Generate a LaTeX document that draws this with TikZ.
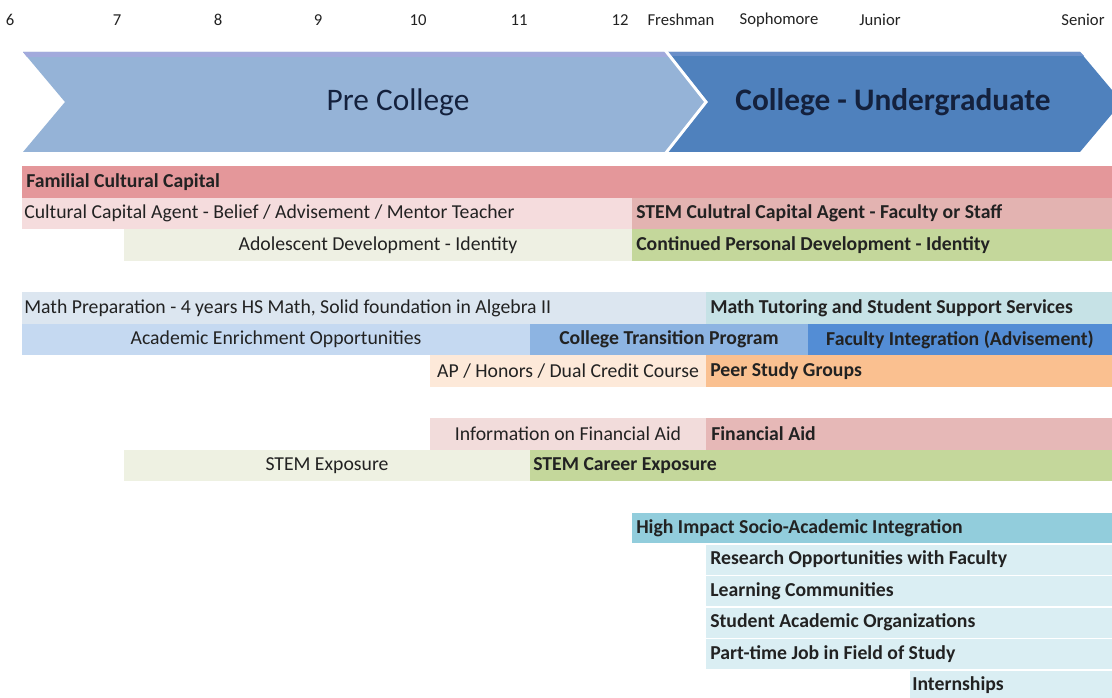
\documentclass[tikz,border=0pt]{standalone}
\usepackage{fontspec}
\setmainfont{Carlito}
\definecolor{ink}{HTML}{222222}
\definecolor{navy}{HTML}{14213D}
\definecolor{cPre}{HTML}{95B3D7}
\definecolor{cPreTop}{HTML}{A2AADC}
\definecolor{cCol}{HTML}{4F81BD}
\definecolor{cColTop}{HTML}{6A8FC9}
\definecolor{cFam}{HTML}{E4979A}
\definecolor{cAgentPre}{HTML}{F5DCDD}
\definecolor{cAgentCol}{HTML}{E3B3B1}
\definecolor{cAdol}{HTML}{EEF0E3}
\definecolor{cCont}{HTML}{C4D79B}
\definecolor{cMathPre}{HTML}{DCE6F0}
\definecolor{cMathTut}{HTML}{C6E2E6}
\definecolor{cAcad}{HTML}{C5D9F1}
\definecolor{cTrans}{HTML}{8DB4E2}
\definecolor{cFac}{HTML}{538DD5}
\definecolor{cAP}{HTML}{FDE9D9}
\definecolor{cPeer}{HTML}{FAC090}
\definecolor{cInfoFA}{HTML}{F2DCDB}
\definecolor{cFA}{HTML}{E6B8B7}
\definecolor{cStemExp}{HTML}{EEF1E2}
\definecolor{cStemCar}{HTML}{C4D79B}
\definecolor{cHigh}{HTML}{92CDDC}
\definecolor{cLight}{HTML}{DAEEF3}
\newcommand\rowfont{\fontsize{14.8}{17}\selectfont}
\newcommand\gbar[4]{\fill[#4] (#1,#3-15.75) rectangle (#2,#3+15.75);}
\newcommand\tbar[4]{\fill[#4] (#1,#3-15) rectangle (#2,#3+15);}
\begin{document}
\begin{tikzpicture}[x=0.75pt,y=-0.75pt,
  txt/.style={inner sep=0pt, text=ink, font=\rowfont},
  btxt/.style={inner sep=0pt, text=ink, font=\rowfont\bfseries},
  grade/.style={inner sep=0pt, text=ink, font=\fontsize{12.5}{14}\selectfont},
  phase/.style={inner sep=0pt, text=navy, font=\fontsize{23.5}{26}\selectfont}]
\useasboundingbox (0,0) rectangle (1112,698);
\fill[white] (0,0) rectangle (1112,698);
% header grade labels
\node[grade] (g6)  at (10,20) {6};
\node[grade] (g7)  at (117,20) {7};
\node[grade] (g8)  at (218,20) {8};
\node[grade] (g9)  at (318,20) {9};
\node[grade] (g10) at (418,20) {10};
\node[grade] (g11) at (519,20) {11};
\node[grade] (g12) at (620,20) {12};
\node[grade] (gfr) at (681,20) {Freshman};
\node[grade] (gso) at (779,20) {Sophomore};
\node[grade] (gju) at (880,20) {Junior};
\node[grade] (gse) at (1083,20) {Senior};
% chevrons
\begin{scope}
\clip (0,0) rectangle (1112,698);
\fill[cPre] (23,52) -- (668,52) -- (708,102) -- (668,152) -- (23,152) -- (65,102) -- cycle;
\fill[cPreTop] (23,52) -- (668,52) -- (672,57) -- (27,57) -- cycle;
\fill[cCol] (668,52) -- (1080,52) -- (1122,102) -- (1080,152) -- (668,152) -- (708,102) -- cycle;
\fill[cColTop] (668,52) -- (1080,52) -- (1084,56) -- (671,56) -- cycle;
\draw[white, line width=2.2pt] (665,50) -- (706,102) -- (665,154);
\end{scope}
\node[phase] (pre) at (398,102) {Pre College};
\node[phase, font=\fontsize{23.5}{26}\selectfont\bfseries] (col) at (893,102) {College - Undergraduate};
% group 1
\gbar{22}{1112}{182}{cFam}
\gbar{22}{632}{213.5}{cAgentPre}
\gbar{632}{1112}{213.5}{cAgentCol}
\gbar{124}{632}{245}{cAdol}
\gbar{632}{1112}{245}{cCont}
\node[btxt, anchor=west] (fam) at (26,182) {Familial Cultural Capital};
\node[txt, anchor=west] (agent) at (24,213.5) {Cultural Capital Agent - Belief / Advisement / Mentor Teacher};
\node[btxt, anchor=west] (stemagent) at (636,213.5) {STEM Culutral Capital Agent - Faculty or Staff};
\node[txt] (adol) at (378,245) {Adolescent Development - Identity};
\node[btxt, anchor=west] (cont) at (636,245) {Continued Personal Development - Identity};
% group 2
\gbar{22}{706}{308}{cMathPre}
\gbar{706}{1112}{308}{cMathTut}
\gbar{22}{530}{339.5}{cAcad}
\gbar{530}{808}{339.5}{cTrans}
\gbar{808}{1112}{339.5}{cFac}
\gbar{430}{706}{371}{cAP}
\gbar{706}{1112}{371}{cPeer}
\node[txt, anchor=west] (mathprep) at (24,308) {Math Preparation - 4 years HS Math, Solid foundation in Algebra II};
\node[btxt, anchor=west] (mathtut) at (710,308) {Math Tutoring and Student Support Services};
\node[txt] (acad) at (276,339.5) {Academic Enrichment Opportunities};
\node[btxt] (trans) at (669,339.5) {College Transition Program};
\node[btxt] (fac) at (960,339.5) {Faculty Integration (Advisement)};
\node[txt] (ap) at (568,371) {AP / Honors / Dual Credit Course};
\node[btxt, anchor=west] (peer) at (710,371) {Peer Study Groups};
% group 3
\gbar{430}{706}{434}{cInfoFA}
\gbar{706}{1112}{434}{cFA}
\gbar{124}{530}{465.5}{cStemExp}
\gbar{530}{1112}{465.5}{cStemCar}
\node[txt] (infofa) at (568,434) {Information on Financial Aid};
\node[btxt, anchor=west] (fa) at (711,434) {Financial Aid};
\node[txt] (stemexp) at (327,465.5) {STEM Exposure};
\node[btxt, anchor=west] (stemcar) at (533,465.5) {STEM Career Exposure};
% group 4
\tbar{632}{1112}{528}{cHigh}
\tbar{706}{1112}{559.5}{cLight}
\tbar{706}{1112}{591}{cLight}
\tbar{706}{1112}{622.5}{cLight}
\tbar{706}{1112}{654}{cLight}
\tbar{910}{1112}{685.5}{cLight}
\node[btxt, anchor=west] (high) at (636,528) {High Impact Socio-Academic Integration};
\node[btxt, anchor=west] (research) at (710,559.5) {Research Opportunities with Faculty};
\node[btxt, anchor=west] (learn) at (710,591) {Learning Communities};
\node[btxt, anchor=west] (org) at (710,622.5) {Student Academic Organizations};
\node[btxt, anchor=west] (job) at (710,654) {Part-time Job in Field of Study};
\node[btxt, anchor=west] (intern) at (912,685.5) {Internships};
\end{tikzpicture}
\end{document}
